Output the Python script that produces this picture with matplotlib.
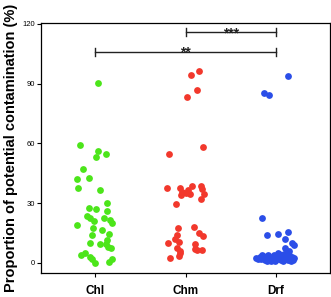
import matplotlib.pyplot as plt

plt.rcParams['font.family'] = ['Liberation Sans', 'DejaVu Sans']

groups = ["Chl", "Chm", "Drf"]
colors = ["#4ce51a", "#f2382c", "#2b4ee8"]

# jitter offsets and values
chl_off = [0.03, -0.17, 0.03, 0.01, 0.12, -0.13, -0.20, -0.07, -0.19, 0.05, 0.13, -0.07, 0.01,
           0.13, -0.09, -0.06, -0.01, 0.10, 0.16, 0.19, -0.20, -0.02, 0.08, -0.04, 0.15, 0.13,
           -0.06, 0.05, 0.12, 0.14, 0.18, -0.16, -0.11, -0.06, -0.04, 0.00, 0.15, 0.19]
chl_val = [90.3, 59.3, 56.0, 53.0, 54.7, 47.0, 42.3, 42.6, 37.6, 36.4, 29.9, 27.4, 27.2,
           26.2, 23.6, 22.7, 21.2, 22.7, 21.6, 20.2, 18.9, 17.5, 16.4, 13.9, 14.4, 11.7,
           10.2, 9.7, 9.5, 7.8, 7.5, 3.8, 4.8, 3.0, 1.8, 0.0, 0.5, 2.2]

chm_off = [0.06, 0.15, 0.13, 0.02, 0.19, -0.18,
           -0.20, -0.06, -0.04, -0.05, 0.00, 0.03, 0.05, 0.07, 0.17, 0.18, 0.20, 0.17, -0.10,
           -0.08, 0.09, -0.09, 0.15, 0.19, -0.12, -0.19, -0.07, 0.11, -0.09, -0.06, 0.10,
           0.13, 0.18, -0.07, -0.17, -0.06]
chm_val = [94.3, 96.4, 86.9, 83.1, 58.0, 54.8,
           37.6, 37.6, 35.4, 34.1, 35.1, 36.8, 34.6, 38.4, 38.4, 37.3, 34.8, 32.1, 29.7,
           17.4, 18.0, 14.2, 15.0, 13.7, 12.0, 10.0, 10.3, 9.7, 7.5, 5.8, 7.0,
           6.7, 6.3, 3.7, 2.5, 5.0]

drf_off = [0.14, -0.13, -0.08, -0.15, -0.10, 0.02, 0.14, 0.10, 0.18, 0.20, 0.10, 0.15,
           -0.22, -0.20, -0.18, -0.16, -0.14, -0.12, -0.11, -0.09, -0.08, -0.06, -0.05, -0.03,
           -0.02, 0.00, 0.01, 0.02, 0.04, 0.05, 0.06, 0.07, 0.09, 0.10, 0.11, 0.12, 0.13,
           0.14, 0.15, 0.16, 0.17, 0.18, 0.19, 0.20, -0.15, -0.01, 0.08, -0.10, 0.03, 0.12,
           -0.07, 0.17]
drf_val = [93.8, 85.3, 84.3, 22.4, 13.9, 14.7, 15.7, 12.2, 10.0, 9.2, 7.5, 5.8,
           2.5, 1.8, 3.0, 2.2, 3.5, 1.5, 2.8, 4.0, 2.0, 3.2, 1.2, 2.6,
           4.2, 1.8, 3.0, 5.0, 2.2, 3.8, 1.4, 2.9, 4.6, 2.0, 3.4, 5.5, 1.6,
           2.7, 3.9, 1.9, 2.5, 3.1, 1.5, 2.3, 4.2, 1.0, 1.1, 1.0, 4.4, 2.4,
           2.7, 1.2]

offsets = [chl_off, chm_off, drf_off]
values = [chl_val, chm_val, drf_val]

fig = plt.figure(figsize=(3.31, 2.97), dpi=100)
ax = fig.add_axes([0.124, 0.081, 0.873, 0.842])

for i in range(3):
    xs = [i + o for o in offsets[i]]
    ax.scatter(xs, values[i], s=24, color=colors[i], linewidths=0, zorder=3)

# significance bars
def sig_bar(x1, x2, y, label):
    ax.plot([x1, x2], [y, y], color="#222222", lw=1)
    ax.plot([x1, x1], [y - 2, y + 2], color="#222222", lw=1)
    ax.plot([x2, x2], [y - 2, y + 2], color="#222222", lw=1)
    ax.text((x1 + x2) / 2, y - 2.6, label, ha="center", va="baseline", fontsize=10, fontweight="bold", color="#222222")

sig_bar(1, 2, 115.7, "***")
sig_bar(0, 2, 106.0, "**")

ax.set_xlim(-0.6, 2.6)
ax.set_ylim(-5, 120.5)
ax.set_xticks([0, 1, 2])
ax.set_xticklabels(groups, fontsize=8.5, fontweight="bold")
ax.set_yticks([0, 30, 60, 90, 120])
ax.tick_params(axis="y", labelsize=5.5, length=3, width=0.8, pad=1.5)
ax.tick_params(axis="x", length=3, width=0.8, pad=6)
ax.set_ylabel("Proportion of potential contamination (%)", fontsize=10.5, fontweight="bold", labelpad=3)
for sp in ax.spines.values():
    sp.set_linewidth(0.9)

fig.savefig("out.png", dpi=100)
